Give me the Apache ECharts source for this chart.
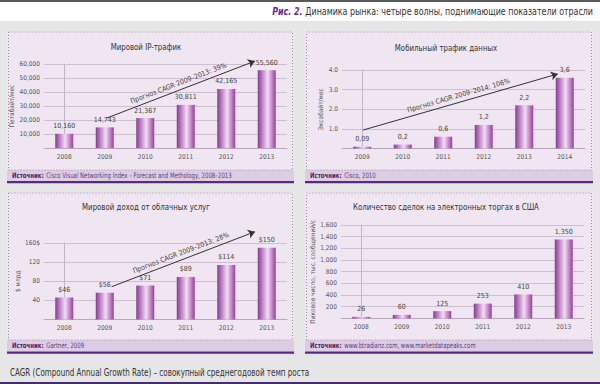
<!DOCTYPE html>
<html><head><meta charset="utf-8">
<script src="https://cdn.jsdelivr.net/npm/echarts@6/dist/echarts.min.js"></script>
<style>html,body{margin:0;padding:0;background:#e6e6e6}#c{width:600px;height:384px}</style>
</head><body><div id="c"></div>
<script>
const FONT = "'DejaVu Sans Condensed','Liberation Sans Narrow','Roboto',sans-serif";

// Panel 1: Мировой IP-трафик
const ipYears = ['2008','2009','2010','2011','2012','2013'];
const ipValues = [10160, 14743, 21367, 30811, 42165, 55560];
const ipTicks = ['', '10,000', '20,000', '30,000', '40,000', '50,000', '60,000'];
const ipArrow = [[1.05, 21400], [4.71, 62100]];
const ipArrowText = 'Прогноз CAGR 2009–2013: 39%';

// Panel 2: Мобильный трафик данных
const mobYears = ['2009','2010','2011','2012','2013','2014'];
const mobValues = [0.09, 0.2, 0.6, 1.2, 2.2, 3.6];
const mobTicks = ['', '1.0', '2.0', '3.0', '4.0'];
const mobArrow = [[0.02, 0.94], [4.83, 3.8]];
const mobArrowText = 'Прогноз CAGR 2009–2014: 106%';

// Panel 3: Мировой доход от облачных услуг
const cloudYears = ['2008','2009','2010','2011','2012','2013'];
const cloudValues = [46, 56, 71, 89, 114, 150];
const cloudTicks = ['', '40', '80', '120', '160$'];
const cloudArrow = [[1.17, 68.6], [4.71, 183.6]];
const cloudArrowText = 'Прогноз CAGR 2009–2013: 28%';

// Panel 4: Количество сделок на электронных торгах в США
const tradeYears = ['2008','2009','2010','2011','2012','2013'];
const tradeValues = [26, 60, 125, 253, 410, 1350];
const tradeTicks = ['', '200', '400', '600', '800', '1,000', '1,200', '1,400', '1,600'];

const fmtThousands = v => v.toLocaleString('en-US');
const fmtDecComma = v => String(v).replace('.', ',');
const fmtDollar = v => '$' + v;

const SMALL = 6.5;

const panels = [
  {title:'Мировой IP-трафик', cx:146, ty:47, grid:{left:44, top:64, width:243, height:84},
   years:ipYears, values:ipValues, max:60000, interval:10000, ticks:ipTicks,
   yName:'Петабайт/мес', nameGap:21, fmt:fmtThousands, arrow:ipArrow, arrowText:ipArrowText},
  {title:'Мобильный трафик данных', cx:446, ty:48, grid:{left:342, top:70, width:243, height:78.5},
   years:mobYears, values:mobValues, max:4, interval:1, ticks:mobTicks,
   yName:'Эксабайт/мес', nameGap:15, fmt:fmtDecComma, arrow:mobArrow, arrowText:mobArrowText},
  {title:'Мировой доход от облачных услуг', cx:146, ty:207, grid:{left:44, top:243, width:243, height:76.5},
   years:cloudYears, values:cloudValues, max:160, interval:40, ticks:cloudTicks,
   yName:'$ млрд', nameGap:22, fmt:fmtDollar, arrow:cloudArrow, arrowText:cloudArrowText},
  {title:'Количество сделок на электронных торгах в США', cx:446, ty:207, grid:{left:341, top:225, width:243, height:93.4},
   years:tradeYears, values:tradeValues, max:1600, interval:200, ticks:tradeTicks,
   yName:'Пиковое число, тыс. сообщений/с', nameGap:22, fmt:fmtThousands, arrow:null, arrowText:''}
];

const barGrad = () => new echarts.graphic.LinearGradient(0, 0, 1, 0, [
  {offset:0, color:'#8a3797'}, {offset:0.55, color:'#f3dcf4'}, {offset:1, color:'#963e9f'}
]);

const grid = [], xAxis = [], yAxis = [], series = [];
panels.forEach((p, i) => {
  grid.push(Object.assign({}, p.grid));
  xAxis.push({type:'category', gridIndex:i, data:p.years,
    axisLine:{lineStyle:{color:'#b9a8c0'}}, axisTick:{show:false},
    axisLabel:{fontSize:SMALL, color:'#555', fontFamily:FONT, margin:5}});
  xAxis.push({type:'value', gridIndex:i, min:-0.5, max:5.5, show:false});
  yAxis.push({type:'value', gridIndex:i, min:0, max:p.max, interval:p.interval,
    name:p.yName, nameLocation:'middle', nameRotate:90, nameGap:p.nameGap,
    nameTextStyle:{fontSize:SMALL, color:'#555', fontFamily:FONT},
    axisLine:{show:true, lineStyle:{color:'#c4b4ca'}}, axisTick:{show:false},
    splitLine:{lineStyle:{color:'#cdbfd3'}},
    axisLabel:{fontSize:SMALL, color:'#555', fontFamily:FONT, margin:4,
      formatter:(v) => p.ticks[Math.round(v / p.interval)]}});
  series.push({type:'bar', xAxisIndex:2*i, yAxisIndex:i, data:p.values, barWidth:18,
    itemStyle:{color:barGrad()},
    label:{show:true, position:'top', distance:4, fontSize:SMALL + 0.5, color:'#444', fontFamily:FONT,
      formatter: d => p.fmt(d.value)}});
  if (p.arrow) {
    series.push({type:'lines', coordinateSystem:'cartesian2d', xAxisIndex:2*i+1, yAxisIndex:i,
      clip:false, z:5, symbol:['none','arrow'], symbolSize:7,
      lineStyle:{color:'#333', width:1, opacity:1},
      label:{show:true, position:'middle', formatter:p.arrowText, fontSize:SMALL + 0.5, color:'#444', fontFamily:FONT, distance:3},
      data:[{coords:p.arrow}]});
  }
});

const panelBoxes = [
  {x:7, y:31, w:287, srcY:170, lineY:181},
  {x:305, y:31, w:288, srcY:170, lineY:181},
  {x:7, y:192, w:287, srcY:340, lineY:351.5},
  {x:305, y:192, w:288, srcY:340, lineY:351.5}
];
const sources = [
  'Cisco Visual Networking Index – Forecast and Methology, 2008–2013',
  'Cisco, 2010',
  'Gartner, 2009',
  'www.btradianz.com, www.marketdatapeaks.com'
];

const graphics = [
  {type:'rect', z:-20, shape:{x:0, y:0, width:600, height:21}, style:{fill:'#ffffff'}},
  {type:'rect', z:-19, shape:{x:0, y:0, width:600, height:2}, style:{fill:'#5a5a5a'}},
  {type:'rect', z:-19, shape:{x:0, y:382, width:600, height:2}, style:{fill:'#4c2a6c'}},
  {type:'text', z:10, x:593, y:11.5, scaleX:0.8, style:{
    text:'{r|Рис. 2.} {t|Динамика рынка: четыре волны, поднимающие показатели отрасли}',
    align:'right', verticalAlign:'middle',
    rich:{r:{fill:'#6a2a8c', fontWeight:'bold', fontStyle:'italic', fontSize:11, fontFamily:FONT},
          t:{fill:'#333', fontSize:11, fontFamily:FONT}}}},
  {type:'text', z:10, x:10, y:372.5, scaleX:0.76, style:{
    text:'CAGR (Compound Annual Growth Rate) – совокупный среднегодовой темп роста',
    fill:'#333', fontSize:10.5, fontFamily:FONT, verticalAlign:'middle'}}
];
panelBoxes.forEach((b, i) => {
  graphics.push({type:'rect', z:-18, shape:{x:b.x, y:b.y, width:b.w, height:b.lineY - b.y}, style:{fill:'#efe6f1'}});
  graphics.push({type:'rect', z:-17, shape:{x:b.x, y:b.srcY, width:b.w, height:b.lineY - b.srcY}, style:{fill:'#dccde3'}});
  graphics.push({type:'rect', z:-17, shape:{x:b.x, y:b.lineY, width:b.w, height:2.2}, style:{fill:'#5a2a82'}});
  graphics.push({type:'rect', z:-16, shape:{x:b.x + 1.5, y:b.y + 1, width:b.w - 3, height:b.srcY - b.y - 1},
    style:{fill:null, stroke:'#9c88ab', lineWidth:1, lineDash:[1, 2]}});
  graphics.push({type:'text', z:10, x:b.x + 5, y:(b.srcY + b.lineY) / 2, scaleX:0.8, style:{
    text:'{b|Источник:} {n|' + sources[i] + '}', verticalAlign:'middle',
    rich:{b:{fill:'#4a1f6e', fontWeight:'bold', fontSize:7.5, fontFamily:FONT},
          n:{fill:'#5b3c85', fontSize:7.5, fontFamily:FONT}}}});
  graphics.push({type:'text', z:10, x:panels[i].cx, y:panels[i].ty, scaleX:0.82, style:{
    text:panels[i].title, align:'center', verticalAlign:'middle', fill:'#333', fontSize:9.5, fontFamily:FONT}});
});

const chart = echarts.init(document.getElementById('c'), null, {renderer:'svg', width:600, height:384});
chart.setOption({
  backgroundColor:'#e6e6e6',
  animation:false,
  textStyle:{fontFamily:FONT},
  graphic:graphics,
  grid, xAxis, yAxis, series
});
</script></body></html>
